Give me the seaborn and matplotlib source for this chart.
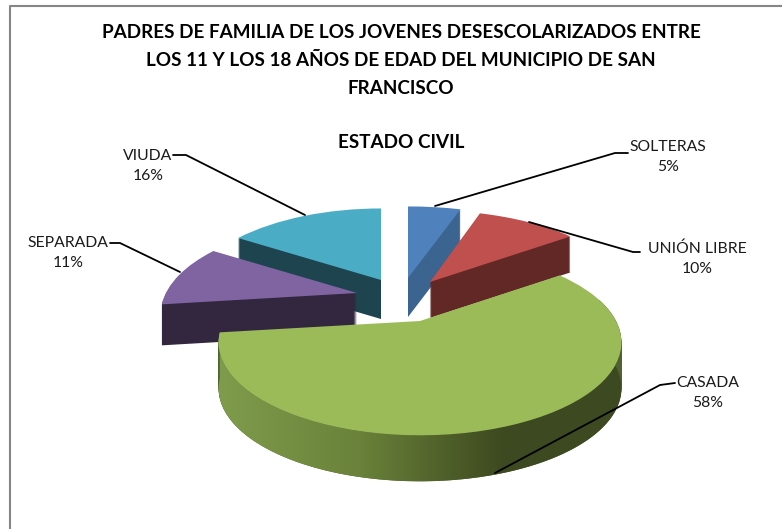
import numpy as np
import matplotlib
matplotlib.use('Agg')
import matplotlib.pyplot as plt
from matplotlib.colors import LinearSegmentedColormap
from matplotlib.patches import PathPatch
from matplotlib.path import Path
from matplotlib.transforms import Transform
import seaborn as sns

categories = ['SOLTERAS', 'UNIÓN LIBRE', 'CASADA', 'SEPARADA', 'VIUDA']
percent = [5, 10, 58, 11, 16]
title_lines = ['PADRES DE FAMILIA DE LOS JOVENES DESESCOLARIZADOS ENTRE',
               'LOS 11 Y LOS 18 AÑOS DE EDAD DEL MUNICIPIO DE SAN',
               'FRANCISCO']
subtitle = 'ESTADO CIVIL'

top_colors = ['#4F81BD', '#C0504D', '#9BBB59', '#8064A2', '#4BACC6']
side_colors = ['#3C6490', '#622826', '#4F6130', '#33273F', '#1D444F']

# where each exploded slice sits in the picture (apex x, apex y, depth, width scale)
apex = {'SOLTERAS': (408, 278, 39, 1.05), 'UNIÓN LIBRE': (430, 282, 36, 1.0), 'CASADA': (420, 321, 46, 0.995),
        'SEPARADA': (357, 293, 41, 0.97), 'VIUDA': (381, 280, 39, 0.965)}
label_pos = {'SOLTERAS': (668, 157), 'UNIÓN LIBRE': (697, 259), 'CASADA': (708, 393),
             'SEPARADA': (68, 253), 'VIUDA': (148, 166)}
leaders = {'SOLTERAS': ([628, 615, 435], [153, 153, 206]),
           'UNIÓN LIBRE': ([640, 633, 529], [252, 252, 222]),
           'CASADA': ([675, 660, 495], [383, 385, 473]),
           'SEPARADA': ([110, 120, 180], [243, 243, 272]),
           'VIUDA': ([173, 186, 305], [155, 155, 215])}

# tilt of the 3d pie
B, A, K = 197, 88, 0.23


def project(u, v, x0, y0, w=1.0):
    d = 1 + K * v
    return x0 + w * B * u / d, y0 - A * v / d


class Tilt(Transform):
    input_dims = 2
    output_dims = 2

    def __init__(self, x0, y0, w):
        super().__init__()
        self.x0, self.y0, self.w = x0, y0, w

    def transform_non_affine(self, values):
        x, y = project(values[:, 0], values[:, 1], self.x0, self.y0, self.w)
        return np.column_stack([x, y])


sns.set_theme(style='white')
plt.rcParams['font.family'] = ['Lato', 'DejaVu Sans']

fig = plt.figure(figsize=(7.82, 5.29), dpi=100)
ax = fig.add_axes([0, 0, 1, 1])


def draw_wedge(value, start, color, x0, y0, w, z=1):
    wedges, _ = ax.pie([value, 100 - value], startangle=90 - start * 3.6, counterclock=False,
                       colors=[color, 'none'], wedgeprops={'linewidth': 0})
    wedges[1].remove()
    wedges[0].set_transform(Tilt(x0, y0, w) + ax.transData)
    wedges[0].set_zorder(z)


starts = np.concatenate([[0], np.cumsum(percent)[:-1]])

for i in [4, 0, 1, 3, 2]:
    name = categories[i]
    x0, y0, depth, w = apex[name]
    for d in range(depth, 0, -1):
        draw_wedge(percent[i], starts[i], side_colors[i], x0, y0 + d, w)
    z = 1
    if name == 'CASADA':
        # gradient on the outer wall
        th = np.radians(np.linspace(starts[i], starts[i] + percent[i], 200) * 3.6)
        xs, ys = project(np.sin(th), np.cos(th), x0, y0, w)
        wall = np.column_stack([np.r_[xs, xs[::-1]], np.r_[ys, ys[::-1] + depth]])
        cmap = LinearSegmentedColormap.from_list('wall', [(0, '#7F9C4C'), (0.35, '#6A823A'),
                                                          (0.7, '#3E4A20'), (1, '#3D4920')])
        im = ax.imshow(np.linspace(0, 1, 256)[None, :], cmap=cmap, aspect='auto', extent=(217, 622, 500, 300),
                       zorder=1.5)
        im.set_clip_path(PathPatch(Path(wall), transform=ax.transData))
        z = 2
    draw_wedge(percent[i], starts[i], top_colors[i], x0, y0, w, z)

ax.set_aspect('auto')
ax.set_xlim(0, 782)
ax.set_ylim(529, 0)
ax.axis('off')

# leader lines + labels
for name, p in zip(categories, percent):
    ax.plot(leaders[name][0], leaders[name][1], color='black', lw=1.3, zorder=5)
    ax.text(label_pos[name][0], label_pos[name][1], f'{name}\n{p}%', ha='center', va='center',
            fontsize=11.3, color='#1a1a1a', linespacing=1.55, zorder=6)

for y, line in zip([33, 60, 88], title_lines):
    ax.text(401, y, line, ha='center', va='center', fontsize=13.6, fontweight='bold', color='black')
ax.text(401, 143, subtitle, ha='center', va='center', fontsize=13.6, fontweight='bold', color='black')

# chart frame, only top and left are in the crop
ax.plot([782, 10, 10], [6, 6, 529], color='#868686', lw=1.5, clip_on=False)

fig.savefig('out.png', dpi=100)
